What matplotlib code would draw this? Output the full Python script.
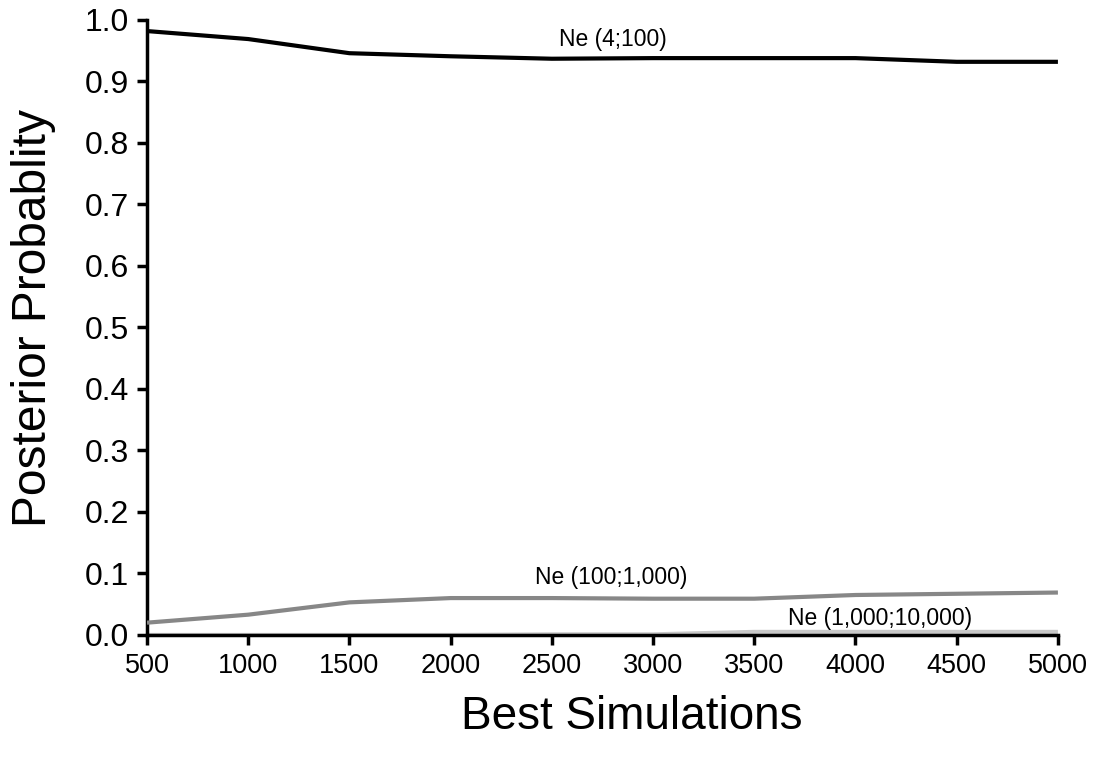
import matplotlib
matplotlib.use("Agg")
import matplotlib.pyplot as plt

best_sims = [500, 1000, 1500, 2000, 2500, 3000, 3500, 4000, 4500, 5000]
ne_4_100 = [0.982, 0.969, 0.946, 0.941, 0.937, 0.938, 0.938, 0.938, 0.932, 0.932]
ne_100_1000 = [0.020, 0.033, 0.053, 0.060, 0.060, 0.059, 0.059, 0.065, 0.067, 0.069]
ne_1000_10000 = [0.000, 0.000, 0.000, 0.000, 0.001, 0.001, 0.005, 0.005, 0.005, 0.005]

labels = ["Ne (4;100)", "Ne (100;1,000)", "Ne (1,000;10,000)"]
label_pos = [(2802, 0.968), (2792, 0.093), (4121, 0.026)]
yticks = [0.0, 0.1, 0.2, 0.3, 0.4, 0.5, 0.6, 0.7, 0.8, 0.9, 1.0]

plt.rcParams['font.family'] = ['Liberation Sans', 'DejaVu Sans']

fig = plt.figure(figsize=(11.02, 7.63), dpi=100)
ax = fig.add_axes([0.1334, 0.1678, 0.8266, 0.806])

ax.plot(best_sims, ne_1000_10000, color='#c8c8c8', lw=3.0, solid_capstyle='butt', zorder=2)
ax.plot(best_sims, ne_100_1000, color='#878787', lw=3.0, solid_capstyle='butt', zorder=3)
ax.plot(best_sims, ne_4_100, color='black', lw=3.0, solid_capstyle='butt', zorder=4)

for txt, (x, y) in zip(labels, label_pos):
    ax.text(x, y, txt, ha='center', va='center', fontsize=16.5)

ax.set_xlim(500, 5000)
ax.set_ylim(0, 1.0)
ax.set_xticks(best_sims)
ax.set_xticklabels([str(v) for v in best_sims], fontsize=19.5)
ax.set_yticks(yticks)
ax.set_yticklabels([f"{v:.1f}" for v in yticks], fontsize=23)

for s in ['top', 'right']:
    ax.spines[s].set_visible(False)
for s in ['left', 'bottom']:
    ax.spines[s].set_linewidth(2.5)
ax.tick_params(axis='both', direction='out', length=7, width=2.5, pad=6)

ax.set_xlabel("Best Simulations", fontsize=33)
ax.xaxis.set_label_coords(0.532, -0.098)
ax.set_ylabel("Posterior Probablity", fontsize=34.5)
ax.yaxis.set_label_coords(-0.1, 0.515)

fig.savefig("out.png", dpi=100)
